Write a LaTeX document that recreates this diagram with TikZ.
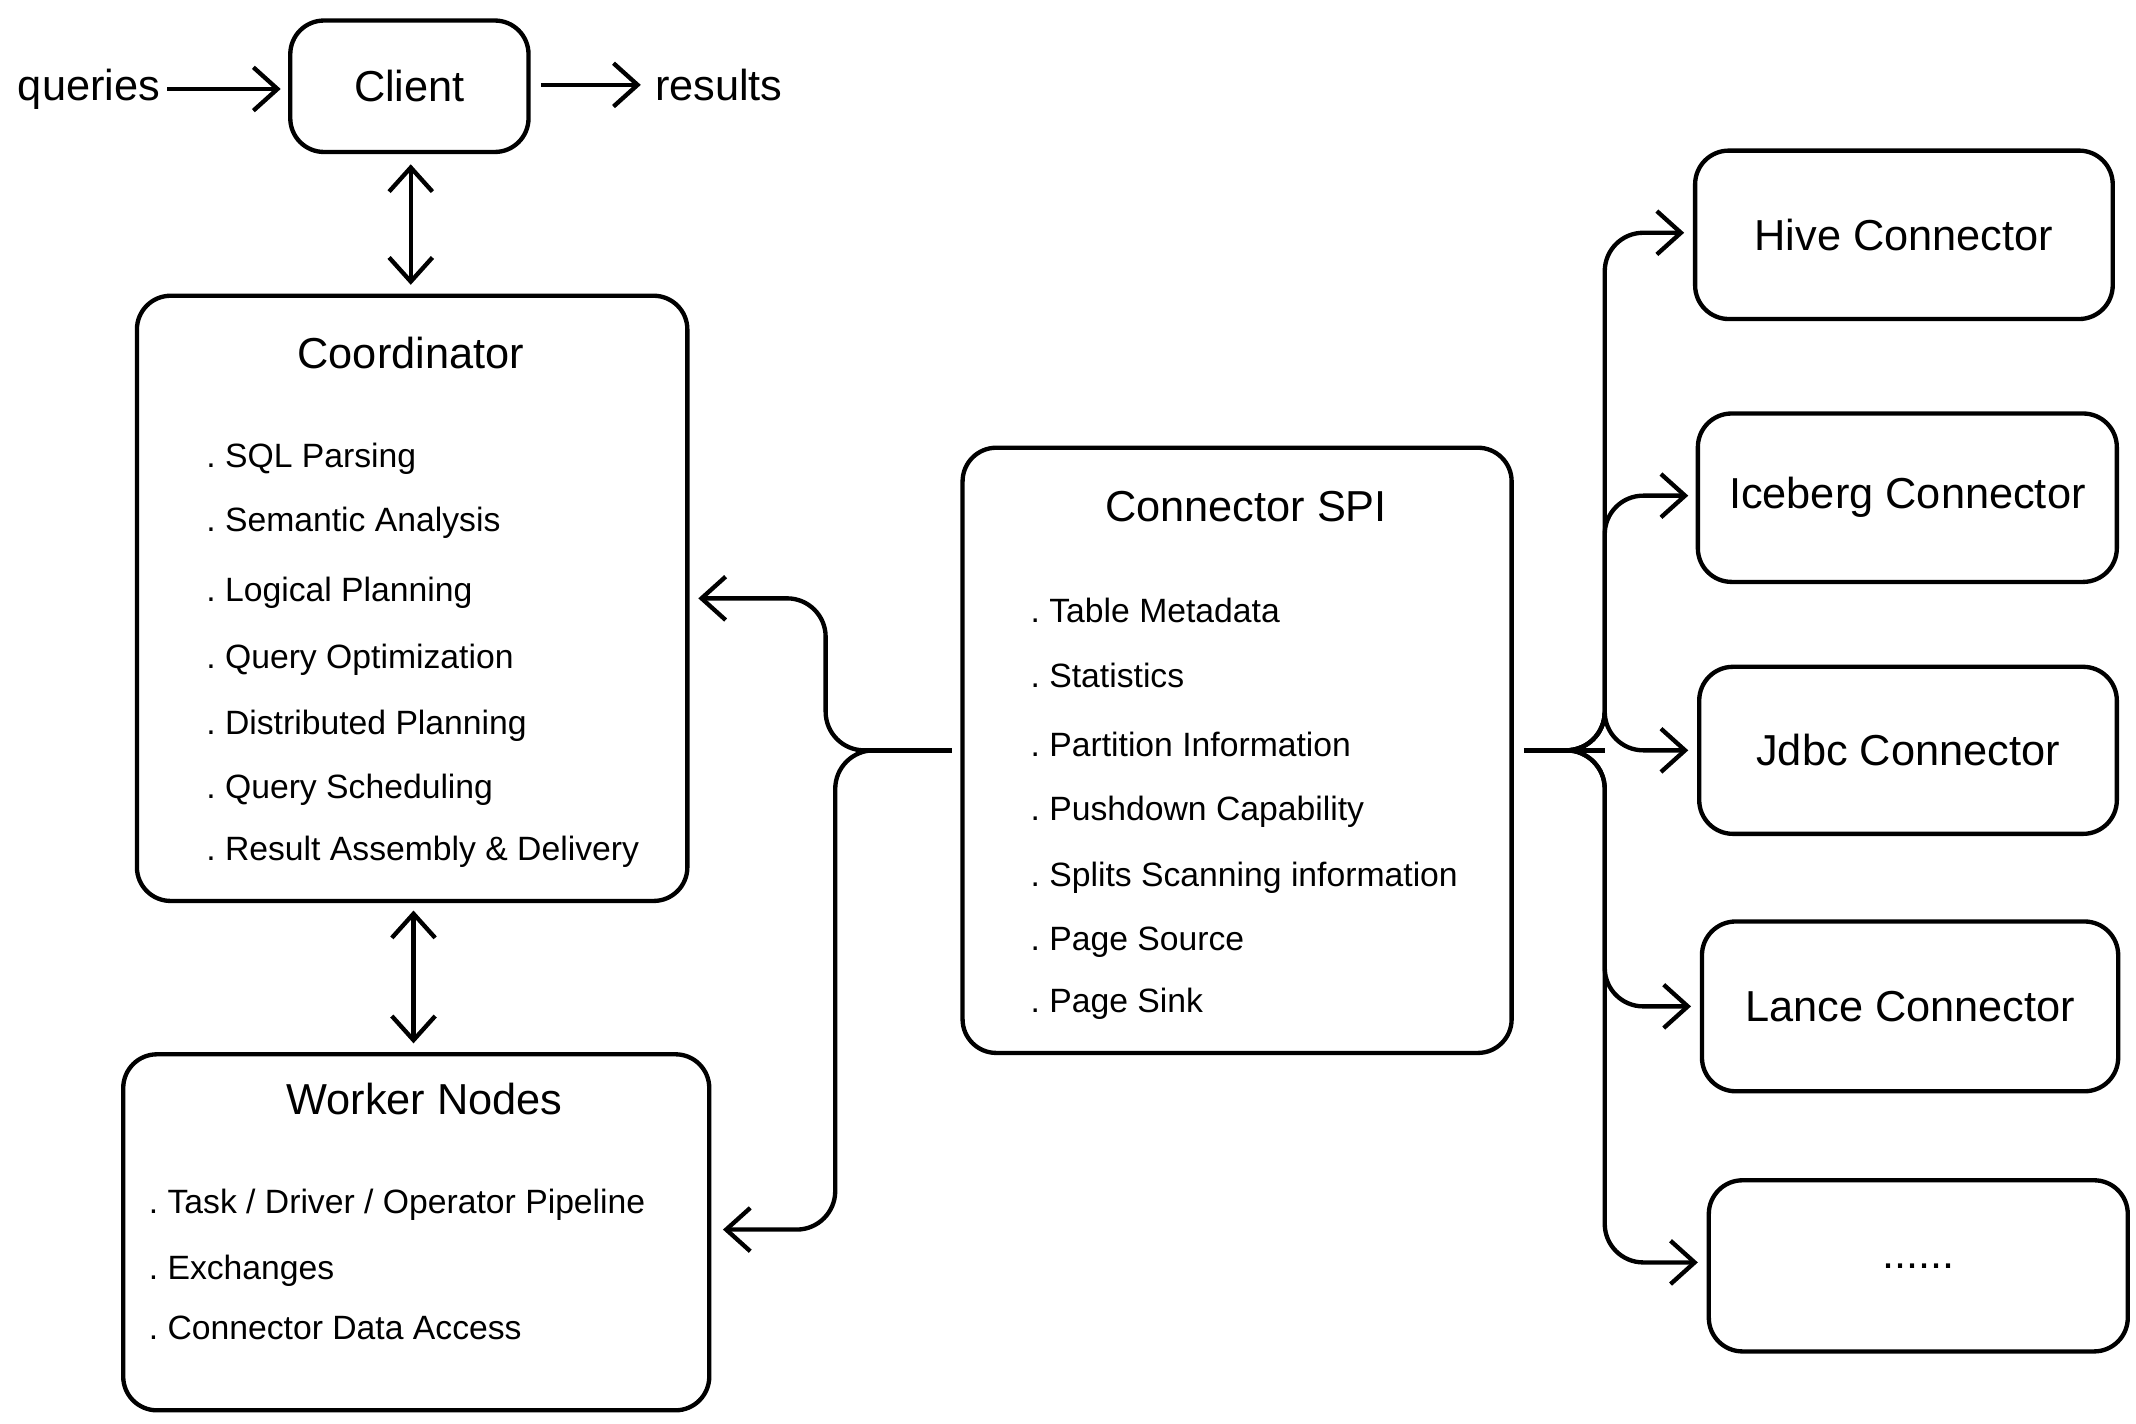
\documentclass[tikz,border=0pt]{standalone}
\usepackage{fontspec}
\setmainfont{Liberation Sans}
\usetikzlibrary{arrows.meta}
\begin{document}
\begin{tikzpicture}[x=0.01cm,y=-0.01cm,
  box/.style={draw,line width=0.9pt,rounded corners=7pt},
  ln/.style={line width=0.9pt},
  arr/.style={ln,-{Straight Barb[length=5pt,width=9pt]}},
  darr/.style={ln,{Straight Barb[length=5pt,width=9pt]}-{Straight Barb[length=5pt,width=9pt]}},
  ttl/.style={font=\fontsize{9}{11}\selectfont},
  itm/.style={font=\fontsize{7}{9}\selectfont,anchor=west,inner sep=0pt}]
\useasboundingbox (0,0) rectangle (1560,1040);
% client
\draw[box] (212,15) rectangle (386,111);
\node[ttl] (client) at (299,63) {Client};
\node[ttl] (q) at (65,65) {queries};
\node[ttl] (r) at (525,62) {results};
\coordinate (qa) at (122,65); \coordinate (qb) at (205,65);
\coordinate (ra) at (395,62); \coordinate (rb) at (468,62);
\draw[arr] (qa) -- (qb);
\draw[arr] (ra) -- (rb);
\coordinate (c1) at (300,120); \coordinate (c2) at (300,208);
\draw[darr] (c1) -- (c2);
% coordinator
\draw[box] (100,216) rectangle (502,658);
\node[ttl] (coord) at (300,258) {Coordinator};
\foreach \y/\t in {335/SQL Parsing,382/Semantic Analysis,433/Logical Planning,482/Query Optimization,530/Distributed Planning,577/Query Scheduling,622/Result Assembly \& Delivery}
  \node[itm] at (150,\y) {.\ \t};
\coordinate (w1) at (302,665); \coordinate (w2) at (302,762);
\draw[darr] (w1) -- (w2);
% worker
\draw[box] (90,770) rectangle (518,1030);
\node[ttl] (work) at (310,803) {Worker Nodes};
\foreach \y/\t in {880/{Task / Driver / Operator Pipeline},928/Exchanges,970/Connector Data Access}
  \node[itm] at (108,\y) {.\ \t};
% SPI
\draw[box] (703,327) rectangle (1104,769);
\node[ttl] (spi) at (910,370) {Connector SPI};
\foreach \y/\t in {446/Table Metadata,493/Statistics,544/Partition Information,593/Pushdown Capability,641/Splits Scanning information,688/Page Source,733/Page Sink}
  \node[itm] at (752,\y) {.\ \t};
% left links
\coordinate (ls) at (695,548); \coordinate (lc) at (510,437); \coordinate (lw) at (528,898);
\draw[ln] (ls) -- (625,548);
\draw[arr,rounded corners=8pt] (625,548) -- (603,548) -- (603,437) -- (lc);
\draw[arr,rounded corners=8pt] (625,548) -- (610,548) -- (610,898) -- (lw);
% right boxes
\foreach \n/\a/\b/\c/\d/\t in {hive/1238/110/1543/233/{Hive Connector},ice/1240/302/1546/425/{Iceberg Connector},jdbc/1241/487/1546/609/{Jdbc Connector},lance/1243/673/1547/797/{Lance Connector},more/1248/862/1554/987/{{......}}}
{\draw[box] (\a,\b) rectangle (\c,\d);
 \node[ttl] (\n) at ({(\a+\c)/2},{(\b+\d)/2}) {\t};}
\coordinate (rs) at (1113,548);
\draw[ln] (rs) -- (1172,548);
\foreach \y/\x in {170/1230,362/1233,548/1233,735/1235,922/1240}
  \draw[arr,rounded corners=8pt] (1150,548) -- (1172,548) -- (1172,\y) -- (\x,\y);
\end{tikzpicture}
\end{document}
